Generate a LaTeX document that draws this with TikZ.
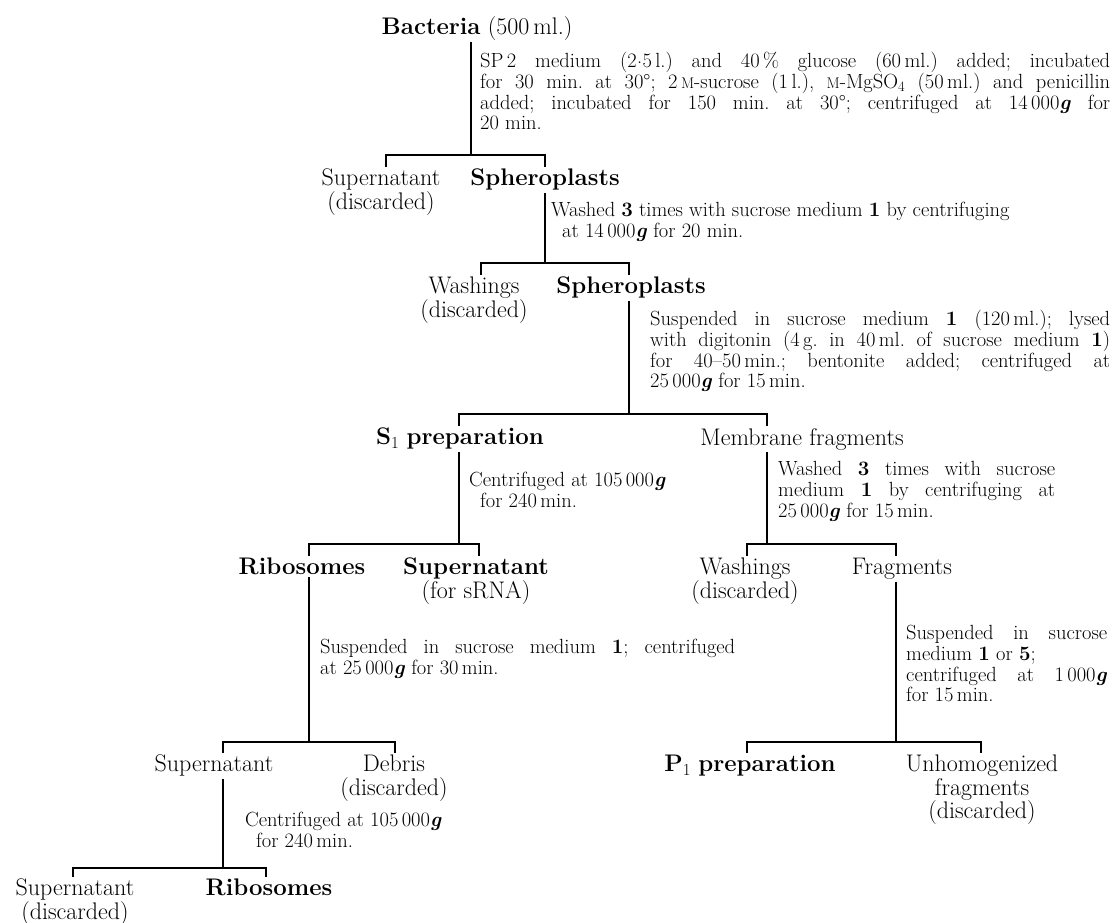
\documentclass[tikz,border=0pt]{standalone}
\usepackage{fontspec}
\setmainfont{Latin Modern Roman}
\frenchspacing
\newcommand\grav{\textbf{\textit{g}}}
\newcommand\smM{{\fontsize{15.5}{15.5}\selectfont M}}
\newcommand\mdot{\kern0.3pt\raisebox{0.45ex}{.}\kern0.3pt}
\newcommand\hang{\leavevmode\hangindent=11pt\hangafter=1\relax}
\tikzset{
  item/.style={anchor=north, inner sep=2pt, align=center, font=\fontsize{24}{23.5}\selectfont},
  note/.style={anchor=north west, inner sep=0pt, font=\fontsize{20.5}{20.8}\selectfont},
  jnote/.style={note, align=justify},
  lnote/.style={note, align=left},
  link/.style={line width=1.3pt},
}
\begin{document}
\begin{tikzpicture}[x=1pt,y=-1pt]
\useasboundingbox (0,0) rectangle (1113,923);
% nodes
\node[item] (bac) at (477,14) {\textbf{Bacteria} (500\,ml.)};
\node[item] (sup1) at (381,167) {Supernatant\\(discarded)};
\node[item] (sph1) at (545,167) {\textbf{Spheroplasts}};
\node[item] (wash1) at (474,275) {Washings\\(discarded)};
\node[item] (sph2) at (631,275) {\textbf{Spheroplasts}};
\node[item] (s1) at (460,426) {\textbf{S}\textsubscript{1} \textbf{preparation}};
\node[item] (mem) at (802,426) {Membrane fragments};
\node[item] (rib1) at (302,556) {\textbf{Ribosomes}};
\node[item] (sup2) at (476,556) {\textbf{Supernatant}\\(for sRNA)};
\node[item] (wash2) at (745,556) {Washings\\(discarded)};
\node[item] (frag) at (902,556) {Fragments};
\node[item] (sup3) at (214,753) {Supernatant};
\node[item] (deb) at (394,753) {Debris\\(discarded)};
\node[item] (p1) at (750,753) {\textbf{P}\textsubscript{1} \textbf{preparation}};
\node[item] (unh) at (982,753) {Unhomogenized\\fragments\\(discarded)};
\node[item] (sup4) at (75,877) {Supernatant\\(discarded)};
\node[item] (rib2) at (269,877) {\textbf{Ribosomes}};
% annotations
\node[jnote, text width=630pt] (t1) at (480,52) {\hang SP\,2 medium (2\mdot5\,l.) and 40\,\% glucose (60\,ml.) added; incubated\linebreak for 30 min. at 30°; 2\,\smM-sucrose (1\,l.), \smM-MgSO\textsubscript{4} (50\,ml.) and penicillin\linebreak added; incubated for 150 min. at 30°; centrifuged at 14\,000\grav{} for\linebreak 20 min.};
\node[lnote] (t2) at (551,202) {Washed \textbf{3} times with sucrose medium \textbf{1} by centrifuging\\\hspace*{11pt}at 14\,000\grav{} for 20 min.};
\node[jnote, text width=460pt] (t3) at (650,310) {\hang Suspended in sucrose medium \textbf{1} (120\,ml.); lysed\linebreak with digitonin (4\,g. in 40\,ml. of sucrose medium \textbf{1})\linebreak for 40--50\,min.; bentonite added; centrifuged at\linebreak 25\,000\grav{} for 15\,min.};
\node[lnote] (t4) at (469,472) {Centrifuged at 105\,000\grav\\\hspace*{11pt}for 240\,min.};
\node[jnote, text width=277pt] (t5) at (778,461) {\hang Washed \textbf{3} times with sucrose\linebreak medium \textbf{1} by centrifuging at\linebreak 25\,000\grav{} for 15\,min.};
\node[jnote, text width=415pt] (t6) at (320,639) {\hang Suspended in sucrose medium \textbf{1}; centrifuged\linebreak at 25\,000\grav{} for 30\,min.};
\node[jnote, text width=201pt] (t7) at (906,625) {\hang Suspended in sucrose\linebreak medium \textbf{1} or \textbf{5};\\centrifuged at 1\,000\grav\linebreak for 15\,min.};
\node[lnote] (t8) at (245,812) {Centrifuged at 105\,000\grav\\\hspace*{11pt}for 240\,min.};
% branch coordinates
\coordinate (b1m) at (471,155); \coordinate (b1l) at (386,155); \coordinate (b1r) at (545,155);
\coordinate (b2l) at (481,263); \coordinate (b2r) at (629,263);
\coordinate (b3l) at (459,414); \coordinate (b3r) at (767,414); \coordinate (b3m) at (629,414);
\coordinate (b4l) at (309,544); \coordinate (b4r) at (479,544);
\coordinate (b5l) at (747,544); \coordinate (b5r) at (896,544);
\coordinate (b6l) at (223,742); \coordinate (b6r) at (395,742);
\coordinate (b7l) at (747,742); \coordinate (b7r) at (981,742);
\coordinate (b8l) at (73,868); \coordinate (b8r) at (266,868); \coordinate (b8m) at (223,868);
% connectors
\draw[link] (bac.south -| b1m) -- (b1m);
\draw[link] (b1l |- sup1.north) -- (b1l) -- (b1r) -- (b1r |- sph1.north);
\draw[link] (sph1.south -| b1r) -- (b1r |- b2r);
\draw[link] (b2l |- wash1.north) -- (b2l) -- (b2r) -- (b2r |- sph2.north);
\draw[link] (sph2.south -| b3m) -- (b3m);
\draw[link] (b3l |- s1.north) -- (b3l) -- (b3r) -- (b3r |- mem.north);
\draw[link] (s1.south -| b3l) -- (b3l |- b4l);
\draw[link] (b4l |- rib1.north) -- (b4l) -- (b4r) -- (b4r |- sup2.north);
\draw[link] (mem.south -| b3r) -- (b3r |- b5l);
\draw[link] (b5l |- wash2.north) -- (b5l) -- (b5r) -- (b5r |- frag.north);
\draw[link] (rib1.south -| b4l) -- (b4l |- b6l);
\draw[link] (b6l |- sup3.north) -- (b6l) -- (b6r) -- (b6r |- deb.north);
\draw[link] (frag.south -| b5r) -- (b5r |- b7l);
\draw[link] (b7l |- p1.north) -- (b7l) -- (b7r) -- (b7r |- unh.north);
\draw[link] (sup3.south -| b6l) -- (b8m);
\draw[link] (b8l |- sup4.north) -- (b8l) -- (b8r) -- (b8r |- rib2.north);
\end{tikzpicture}
\end{document}
